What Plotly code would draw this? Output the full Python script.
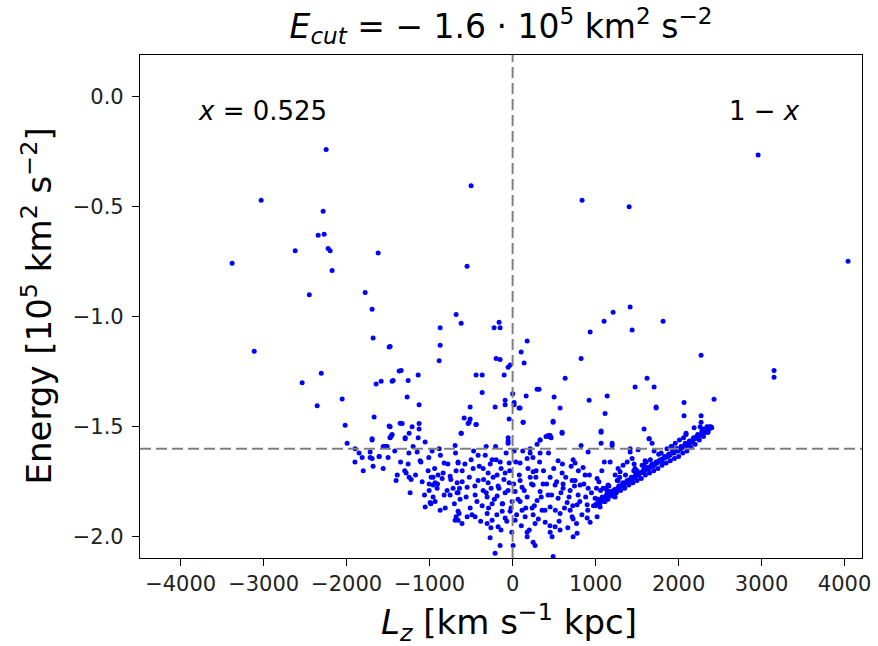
import plotly.graph_objects as go

# Sparse / outer points (Lz [km s^-1 kpc], Energy [1e5 km^2 s^-2])
lz_outer = [-3380, -3030, -3114, -2620, -2247, -2283, -2343, -2271, -2223, -2199, -1620, -500, -549,
            -2175, -2450, -1777, 837, 1404, 2958, 4042, -1693, -1681, -1488, -2306, -2536, -1645,
            -1584, -1452, -1367, -2054, -2355, -1669, -2018, -1488, -1355, -1693, -1476, -1458,
            -1994, -1898, -1536, -1512, -1813, -1717, -1608, 3150, 3150, -1900, -1800, -1850]
e_outer = [-0.757, -0.47, -1.157, -0.70, -0.24, -0.52, -0.63, -0.625, -0.69, -0.70, -0.71, -0.405, -0.77,
           -0.79, -0.90, -0.89, -0.47, -0.50, -0.265, -0.748, -0.966, -1.097, -1.138, -1.257, -1.30, -1.306,
           -1.293, -1.293, -1.247, -1.374, -1.405, -1.456, -1.493, -1.497, -1.484, -1.56, -1.548, -1.54,
           -1.575, -1.60, -1.59, -1.59, -1.64, -1.64, -1.635, -1.245, -1.275, -1.66, -1.70, -1.62]

# Right-hand upper region
lz_right = [175, 103, 139, 934, 1102, 1211, 1416, 1440, 1813, 825, 2271, 633, 1620, 1476, 1705, 295, 319,
            163, 500, 922, 1139, 0, 18, 90, 572, 1114, 1729, 2427, 2066, 2066, 2271, 2271, 127, 488, 596,
            1066, 1584, 2187, 2368, 2331, 2307, 2090, 428, 452, 331, 1645, 2199]
e_right = [-1.11, -1.16, -1.21, -1.07, -1.02, -0.98, -0.956, -1.06, -1.02, -1.19, -1.175, -1.28, -1.28, -1.32,
           -1.32, -1.33, -1.33, -1.36, -1.365, -1.38, -1.36, -1.35, -1.39, -1.415, -1.415, -1.44, -1.415,
           -1.375, -1.39, -1.45, -1.45, -1.48, -1.48, -1.475, -1.525, -1.52, -1.51, -1.505, -1.50, -1.525,
           -1.51, -1.535, -1.54, -1.54, -1.56, -1.555, -1.55]

# Central upper region
lz_center = [-681, -620, -873, -873, -885, -223, -163, -151, -199, -151, -54, -30, -102, -1476, -1343, -1440,
             -1259, -1138, -440, -367, -1271, -1127, -367, -512, -90, -211, -90, 18, 78, -584, -512, -524,
             -440, -42, -1331, -1211, -1127, -1127, -1476, -1247, -1138, -1295, -620, -54]
e_center = [-0.99, -1.03, -1.05, -1.13, -1.20, -1.05, -1.025, -1.05, -1.19, -1.195, -1.23, -1.22, -1.265,
            -1.135, -1.245, -1.29, -1.29, -1.265, -1.265, -1.265, -1.365, -1.40, -1.345, -1.41, -1.38, -1.41,
            -1.40, -1.40, -1.415, -1.46, -1.465, -1.48, -1.49, -1.465, -1.485, -1.50, -1.485, -1.51, -1.50,
            -1.53, -1.55, -1.55, -1.53, -1.55]

# Dense left-of-centre region
lz_left = [-1476, -1452, -1295, -1693, -1054, -1560, -1524, -1199, -1150, -970, -885, -1717, -1608, -1693,
           -1681, -1560, -1259, -1114, -1283, -1247, -1223, -1404, -825, -657, -1018, -958, -982, -898, -837,
           -849, -753, -681, -1090, -1006, -934, -910, -958, -1006, -789, -825, -717, -753, -657, -669, -1235,
           -958, -934, -994, -1054, -873, -681, -657, -645]
e_left = [-1.55, -1.535, -1.555, -1.555, -1.57, -1.59, -1.59, -1.59, -1.615, -1.61, -1.60, -1.615, -1.635,
          -1.645, -1.68, -1.69, -1.67, -1.655, -1.71, -1.73, -1.74, -1.745, -1.665, -1.66, -1.70, -1.73,
          -1.73, -1.72, -1.71, -1.735, -1.725, -1.70, -1.75, -1.76, -1.755, -1.78, -1.765, -1.79, -1.79,
          -1.81, -1.78, -1.81, -1.80, -1.755, -1.80, -1.82, -1.84, -1.845, -1.865, -1.88, -1.91, -1.925, -1.895]

# Dense core around Lz = 0
lz_core = [-536, -440, -620, -693, -319, -54, -54, 127, 18, -416, -247, -199, -500, -657, 211, 175, 90, -42,
           -608, -476, -355, -295, -139, -90, -187, -416, -608, -295, -259, -355, -175, -42, 90, 211, 114, 30,
           -90, -187, -307, -452, -548, -669, -633, 175, 90, -6, -126, -247, -367, -512, -657, -548, -452,
           -307, -126, -30, 114, 235, -247, -90, 30, 151, -693, -175, -307, 175, 175, -271, -151, 6, -211, 247]
e_core = [-1.485, -1.49, -1.53, -1.585, -1.59, -1.565, -1.575, -1.48, -1.61, -1.63, -1.65, -1.65, -1.65,
          -1.665, -1.62, -1.645, -1.665, -1.665, -1.70, -1.69, -1.69, -1.71, -1.69, -1.71, -1.72, -1.745,
          -1.75, -1.755, -1.78, -1.79, -1.77, -1.755, -1.745, -1.73, -1.775, -1.795, -1.80, -1.815, -1.82,
          -1.81, -1.775, -1.80, -1.83, -1.82, -1.84, -1.84, -1.85, -1.85, -1.86, -1.87, -1.885, -1.91, -1.91,
          -1.895, -1.885, -1.885, -1.88, -1.87, -1.925, -1.915, -1.925, -1.91, -1.925, -1.955, -1.94, -1.98,
          -2.0, -2.005, -2.04, -2.04, -2.075, -2.025]

# More core points (read from the densest part of the cloud)
lz_core2 = [-1170, -1105, -1062, -1010, -985, -940, -905, -870, -812, -780, -745, -702, -688, -640, -610,
            -575, -560, -522, -490, -470, -455, -430, -402, -385, -350, -330, -318, -290, -270, -262, -235,
            -220, -205, -190, -165, -150, -140, -120, -105, -78, -70, -55, -35, -20, -10, 12, 38, 48, 65, 80,
            105, 122, 140, 158, 185, 200, 228, 245, 262, 280, 310, 325, 345, 372, 390, 410, 432, 450, 470,
            495, 515, 530, 560, 582, 600, 625, 640, 665, 680, 705, 725, 745, 770, 792, 810, 835, 858, 880,
            905, 925, 950, 975, 1010, 1040, 1075, 1105, -1250, -1300, -1350, -1420, -1390, -1500]
e_core2 = [-1.72, -1.66, -1.81, -1.64, -1.85, -1.69, -1.76, -1.63, -1.87, -1.67, -1.74, -1.85, -1.62, -1.78,
           -1.94, -1.67, -1.82, -1.73, -1.90, -1.61, -1.77, -1.84, -1.68, -1.93, -1.74, -1.63, -1.80, -1.87,
           -1.67, -1.96, -1.73, -1.83, -1.59, -1.90, -1.78, -1.66, -1.97, -1.85, -1.74, -1.62, -1.93, -1.79,
           -1.70, -1.87, -1.98, -1.76, -1.66, -1.90, -1.83, -1.72, -1.95, -1.61, -1.79, -1.87, -1.69, -1.97,
           -1.76, -1.64, -1.86, -1.73, -1.92, -1.66, -1.82, -1.70, -1.88, -1.76, -1.62, -1.95, -1.81, -1.69,
           -1.88, -1.75, -1.93, -1.80, -1.67, -1.87, -1.73, -1.96, -1.82, -1.68, -1.86, -1.77, -1.94, -1.70,
           -1.84, -1.90, -1.76, -1.82, -1.88, -1.72, -1.80, -1.86, -1.78, -1.75, -1.70, -1.66, -1.62, -1.70,
           -1.66, -1.61, -1.72, -1.64]

# Dense right-of-centre region
lz_rcore = [488, 596, 403, 440, 464, 331, 295, 211, 825, 1066, 1066, 910, 331, 548, 729, 753, 849, 247, 283,
            452, 596, 873, 1018, 717, 753, 608, 608, 367, 247, 512, 813, 910, 1090, 331, 428, 693, 789, 548,
            295, 994, 1139, 657, 777, 898, 452, 355, 1054, 693, 572, 717, 729, 247, 898, 1018, 392, 271, 512,
            934, 452, 572, 777, 729, 476, 271, 488]
e_rcore = [-1.48, -1.53, -1.545, -1.545, -1.55, -1.56, -1.58, -1.60, -1.585, -1.525, -1.575, -1.615, -1.62,
           -1.655, -1.65, -1.665, -1.685, -1.705, -1.70, -1.73, -1.71, -1.72, -1.735, -1.745, -1.745, -1.76,
           -1.78, -1.76, -1.765, -1.765, -1.765, -1.78, -1.78, -1.795, -1.81, -1.79, -1.81, -1.825, -1.835,
           -1.825, -1.82, -1.845, -1.855, -1.855, -1.865, -1.88, -1.865, -1.88, -1.895, -1.91, -1.92, -1.90,
           -1.915, -1.91, -1.935, -1.94, -1.955, -1.935, -1.98, -1.97, -1.985, -2.0, -2.0, -2.04, -2.09]

# Prograde ridge (lower-right envelope)
lz_ridge = [1729, 2343, 2319, 2355, 2090, 1199, 1199, 1645, 1681, 1416, 1512, 1416, 1705, 1922, 1982, 2054,
            2114, 2138, 2163, 2187, 2223, 2235, 1175, 1440, 1464, 1596, 1584, 1380, 1331, 1271, 1295, 1235,
            1500, 1500, 1271, 1380, 1150, 1139, 1199, 1235, 1114,
            1000, 1050, 1100, 1150, 1200, 1250, 1300, 1350, 1400, 1450, 1500, 1550, 1600, 1650, 1700, 1750,
            1800, 1850, 1900, 1950, 2000, 2050, 2100, 2150, 2200, 2250, 2300, 2350, 2400,
            1030, 1080, 1130, 1180, 1230, 1280, 1330, 1380, 1430, 1480, 1530, 1580, 1630, 1680, 1730, 1780,
            1830, 1880, 1930, 1980, 2030, 2080, 2130, 2180, 2230, 2280,
            1060, 1160, 1260, 1360, 1460, 1560, 1660, 1760, 1860, 1960, 2060,
            1010, 1045, 1070, 1095, 1125, 1140, 1170, 1195, 1215, 1240, 1265, 1290, 1315, 1340, 1365, 1395,
            1415, 1440, 1465, 1490, 1515, 1545, 1565, 1590, 1615, 1645, 1665, 1695, 1715, 1740, 1765, 1795,
            1815, 1845, 1865, 1895, 1915, 1945, 1970, 1995, 2020, 2045, 2070, 2095, 2125, 2145, 2170, 2195,
            2215, 2245, 2265, 2295, 2315, 2340, 2370, 2390, 1120, 1290, 1475, 1610, 1790, 1910, 2010, 2260]
e_ridge = [-1.41, -1.50, -1.52, -1.525, -1.53, -1.575, -1.585, -1.555, -1.575, -1.60, -1.605, -1.615, -1.61,
           -1.59, -1.60, -1.59, -1.59, -1.575, -1.57, -1.555, -1.545, -1.54, -1.66, -1.645, -1.67, -1.655,
           -1.675, -1.66, -1.675, -1.69, -1.705, -1.72, -1.70, -1.715, -1.745, -1.75, -1.765, -1.79, -1.80,
           -1.82, -1.84,
           -1.86, -1.85, -1.84, -1.83, -1.815, -1.80, -1.79, -1.78, -1.765, -1.755, -1.745, -1.735, -1.72,
           -1.71, -1.70, -1.69, -1.675, -1.665, -1.655, -1.645, -1.635, -1.62, -1.61, -1.595, -1.58, -1.56,
           -1.545, -1.525, -1.505,
           -1.83, -1.82, -1.81, -1.795, -1.785, -1.77, -1.755, -1.745, -1.73, -1.72, -1.71, -1.695, -1.685,
           -1.67, -1.66, -1.65, -1.635, -1.625, -1.61, -1.60, -1.59, -1.575, -1.565, -1.55, -1.535, -1.52,
           -1.79, -1.77, -1.745, -1.72, -1.70, -1.675, -1.65, -1.625, -1.60, -1.575, -1.55,
           -1.85, -1.84, -1.835, -1.825, -1.82, -1.80, -1.81, -1.80, -1.79, -1.79, -1.78, -1.77, -1.765,
           -1.77, -1.755, -1.75, -1.74, -1.74, -1.73, -1.725, -1.72, -1.71, -1.705, -1.70, -1.695, -1.69,
           -1.68, -1.68, -1.67, -1.665, -1.655, -1.66, -1.645, -1.64, -1.635, -1.63, -1.62, -1.62, -1.61,
           -1.61, -1.60, -1.595, -1.59, -1.58, -1.58, -1.57, -1.56, -1.555, -1.55, -1.545, -1.535, -1.53,
           -1.52, -1.515, -1.51, -1.50, -1.78, -1.73, -1.69, -1.66, -1.62, -1.59, -1.56, -1.50]

E_cut = -1.6
x_ticks = [-4000, -3000, -2000, -1000, 0, 1000, 2000, 3000, 4000]
y_ticks = [0.0, -0.5, -1.0, -1.5, -2.0]
x_range = [-4490, 4210]
y_range = [-2.097, 0.19]

lz = lz_outer + lz_right + lz_center + lz_left + lz_core + lz_core2 + lz_rcore + lz_ridge
en = e_outer + e_right + e_center + e_left + e_core + e_core2 + e_rcore + e_ridge

FONT = "DejaVu Sans"

fig = go.Figure()
fig.add_trace(go.Scatter(x=lz, y=en, mode="markers",
                         marker=dict(color="#0000ff", size=5, line=dict(width=0)),
                         hoverinfo="x+y", showlegend=False))

fig.add_shape(type="line", xref="x", yref="paper", x0=0, x1=0, y0=0, y1=1,
              line=dict(color="grey", width=2, dash="11px,5px"))
fig.add_shape(type="line", xref="paper", yref="y", x0=0, x1=1, y0=E_cut, y1=E_cut,
              line=dict(color="grey", width=2, dash="11px,5px"))

fig.add_annotation(x=-3010, y=-0.063, xref="x", yref="y", showarrow=False,
                   text="<i>x</i> = 0.525", font=dict(family=FONT, size=26, color="black"))
fig.add_annotation(x=3030, y=-0.063, xref="x", yref="y", showarrow=False,
                   text="1 − <i>x</i>", font=dict(family=FONT, size=26, color="black"))

fig.add_annotation(x=0.5, y=0, xref="paper", yref="paper", yshift=-64, xshift=8, showarrow=False,
                   yanchor="middle",
                   text="<i>L</i><sub><i>z</i></sub> [km s<sup>−1</sup> kpc]",
                   font=dict(family=FONT, size=34, color="black"))
fig.add_annotation(x=0, y=0.5, xref="paper", yref="paper", xshift=-104, showarrow=False,
                   xanchor="center", textangle=-90,
                   text="Energy [10<sup>5</sup> km<sup>2</sup> s<sup>−2</sup>]",
                   font=dict(family=FONT, size=34, color="black"))

fig.update_layout(
    width=878, height=646,
    margin=dict(l=140, r=16, t=55, b=88, autoexpand=False),
    paper_bgcolor="white", plot_bgcolor="white",
    font=dict(family=FONT, color="black"),
    title=dict(text="<i>E</i><sub><i>cut</i></sub> = − 1.6 · 10<sup>5</sup> km<sup>2</sup> s<sup>−2</sup>",
               x=0.5, xref="paper", y=1 - 26 / 646, yref="container", yanchor="middle",
               font=dict(family=FONT, size=33, color="black")),
)
fig.update_xaxes(range=x_range, tickvals=x_ticks, ticktext=[str(v).replace("-", "−") for v in x_ticks],
                 ticks="outside", ticklen=7, tickwidth=1.2, tickcolor="black", automargin=False,
                 showline=True, linecolor="black", linewidth=1.2, mirror=True,
                 showgrid=False, zeroline=False, tickfont=dict(family=FONT, size=21, color="#222"))
fig.update_yaxes(range=y_range, tickvals=y_ticks, ticktext=[f"{v:.1f}".replace("-", "−") for v in y_ticks],
                 ticks="outside", ticklen=7, tickwidth=1.2, tickcolor="black", automargin=False,
                 ticklabelstandoff=4,
                 showline=True, linecolor="black", linewidth=1.2, mirror=True,
                 showgrid=False, zeroline=False, tickfont=dict(family=FONT, size=21, color="#222"))

fig.write_html("out.html")
